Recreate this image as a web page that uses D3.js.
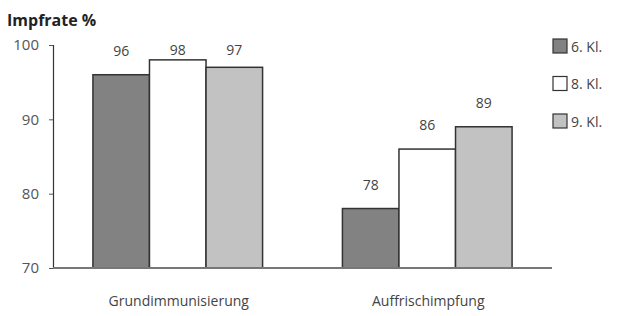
<!DOCTYPE html>
<html>
<head>
<meta charset="utf-8">
<script src="https://cdn.jsdelivr.net/npm/d3@7"></script>
<style>
  body { margin: 0; background: #fff; }
  svg { display: block; font-family: "Open Sans", sans-serif; }
</style>
</head>
<body>
<div id="chart"></div>
<script>
// Daten
var kategorien = ["Grundimmunisierung", "Auffrischimpfung"];
var klassen = ["6. Kl.", "8. Kl.", "9. Kl."];
var werte_6 = [96, 78];
var werte_8 = [98, 86];
var werte_9 = [97, 89];
var y_ticks = [70, 80, 90, 100];

var serien = [werte_6, werte_8, werte_9];
var farben = ["#828282", "#ffffff", "#c2c2c2"];

var width = 620, height = 316;

var svg = d3.select("#chart")
    .append("svg")
    .attr("width", width)
    .attr("height", height);

var x = d3.scaleBand()
    .domain(kategorien)
    .range([53, 552])
    .paddingInner(0.32)
    .paddingOuter(0.16);

var x_inner = d3.scaleBand()
    .domain(klassen)
    .range([0, x.bandwidth()]);

var y = d3.scaleLinear()
    .domain([70, 100])
    .range([268, 45]);

// Titel
svg.append("text")
    .attr("x", 7)
    .attr("y", 26)
    .attr("font-size", 16)
    .attr("font-weight", "bold")
    .attr("fill", "#222")
    .text("Impfrate %");

// Balken
var daten = [];
kategorien.forEach(function (k, i) {
    klassen.forEach(function (kl, j) {
        daten.push({ kat: k, klasse: kl, wert: serien[j][i], farbe: farben[j] });
    });
});

svg.append("g")
    .selectAll("rect")
    .data(daten)
    .join("rect")
    .attr("x", d => x(d.kat) + x_inner(d.klasse))
    .attr("y", d => y(d.wert))
    .attr("width", x_inner.bandwidth())
    .attr("height", d => y(70) - y(d.wert))
    .attr("fill", d => d.farbe)
    .attr("stroke", "#333")
    .attr("stroke-width", 1.5);

// Werte über den Balken
svg.append("g")
    .selectAll("text")
    .data(daten)
    .join("text")
    .attr("x", d => x(d.kat) + x_inner(d.klasse) + x_inner.bandwidth() / 2)
    .attr("y", d => Math.max(y(d.wert) - 19, 55))
    .attr("text-anchor", "middle")
    .attr("font-size", 14)
    .attr("fill", "#444")
    .text(d => d.wert);

// y-Achse
var y_axis = svg.append("g")
    .attr("transform", "translate(53,0)")
    .call(d3.axisLeft(y).tickValues(y_ticks).tickSize(4).tickPadding(10));
y_axis.select(".domain").attr("stroke", "#333").attr("stroke-width", 1.2);
y_axis.selectAll(".tick line").attr("stroke", "#555");
y_axis.selectAll(".tick text")
    .attr("font-size", 15)
    .attr("fill", "#555")
    .attr("font-family", "Open Sans, sans-serif");

// Grundlinie
svg.append("line")
    .attr("x1", 53)
    .attr("x2", 552)
    .attr("y1", y(70))
    .attr("y2", y(70))
    .attr("stroke", "#777")
    .attr("stroke-width", 2);

// Kategorienbeschriftung
svg.append("g")
    .selectAll("text")
    .data(kategorien)
    .join("text")
    .attr("x", d => x(d) + x.bandwidth() / 2 + 1)
    .attr("y", 306)
    .attr("text-anchor", "middle")
    .attr("font-size", 14)
    .attr("fill", "#444")
    .text(d => d);

// Legende
var legende = svg.append("g")
    .selectAll("g")
    .data(klassen)
    .join("g")
    .attr("transform", (d, i) => "translate(553," + (39 + i * 37.5) + ")");

legende.append("rect")
    .attr("width", 14)
    .attr("height", 14)
    .attr("fill", (d, i) => farben[i])
    .attr("stroke", "#333")
    .attr("stroke-width", 1.2);

legende.append("text")
    .attr("x", 18)
    .attr("y", 12.5)
    .attr("font-size", 14)
    .attr("fill", "#444")
    .text(d => d);
</script>
</body>
</html>
